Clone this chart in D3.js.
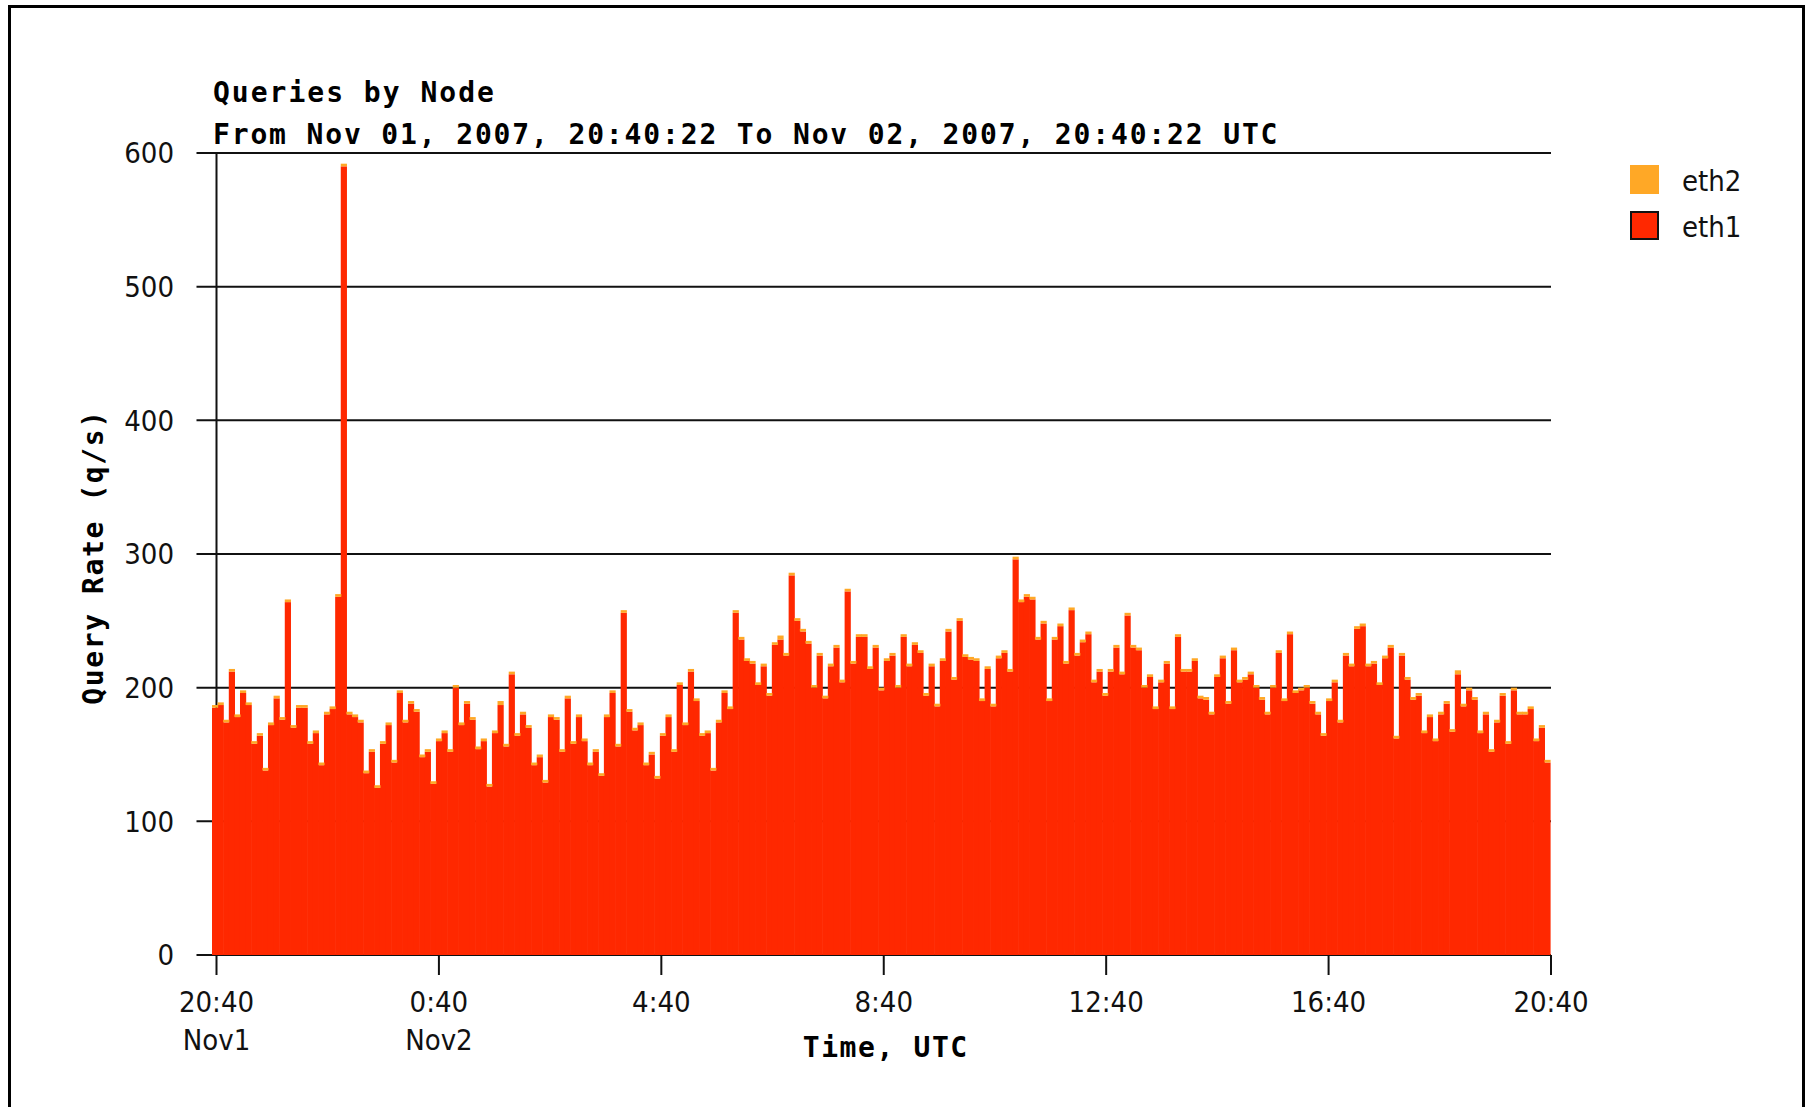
<!DOCTYPE html>
<html>
<head>
<meta charset="utf-8">
<script src="https://cdn.jsdelivr.net/npm/d3@7"></script>
<style>
    body { margin: 0; background: #fff; }
    svg { display: block; }
</style>
</head>
<body>
<svg id="chart" width="1808" height="1107"></svg>
<script>
// query rate per time bin (q/s)
const eth1 = [
    185,187,174,212,178,196,187,158,164,138,
    172,192,176,264,170,185,185,158,166,142,
    180,184,268,590,180,178,174,136,152,125,
    158,172,144,196,174,188,182,148,152,128,
    160,166,152,200,172,188,176,154,160,126,
    166,187,156,210,164,180,170,142,148,129,
    178,176,152,192,158,178,160,142,152,134,
    178,196,156,256,182,168,172,142,150,132,
    164,178,152,202,172,212,190,164,166,138,
    174,196,184,256,236,220,218,202,216,194,
    232,236,224,284,250,242,233,200,224,192,
    216,230,204,272,218,238,238,214,230,198,
    220,224,200,238,216,232,226,194,216,186,
    220,242,206,250,223,221,220,190,214,186,
    222,226,212,296,264,268,266,236,248,190,
    236,246,218,258,224,234,240,204,212,194,
    212,
    230,210,254,230,228,200,208,184,204,218,
    184,238,212,212,220,192,191,180,208,222,
    188,228,204,206,210,200,191,180,200,226,
    190,240,196,198,200,188,180,164,190,204,
    174,224,216,244,246,216,218,202,222,230,
    162,224,206,191,194,166,178,160,180,188,
    167,210,186,198,191,166,180,152,174,194,
    158,198,180,180,184,160,170,144
];

const eth2 = [
    2,2,2,2,2,2,2,2,2,2, 2,2,2,2,2,2,2,2,2,2,
    2,2,2,2,2,2,2,2,2,2, 2,2,2,2,2,2,2,2,2,2,
    2,2,2,2,2,2,2,2,2,2, 2,3,2,2,2,2,2,2,2,2,
    2,2,2,2,2,2,2,2,2,2, 2,2,2,2,2,2,2,2,2,2,
    2,2,2,2,2,2,2,2,2,2, 2,2,2,2,2,2,2,2,2,2,
    2,3,2,2,2,2,2,2,2,2, 2,2,2,2,2,2,2,2,2,2,
    2,2,2,2,2,2,2,2,2,2, 2,2,2,2,2,2,2,2,2,2,
    2,2,2,2,2,2,2,2,2,2, 2,2,2,2,2,2,2,2,2,2,
    2,
    2,2,2,2,2,2,2,2,2,2, 2,2,2,2,2,2,2,2,2,2,
    2,2,2,2,2,2,2,2,2,2, 2,2,2,2,2,2,2,2,2,2,
    2,2,2,2,2,2,2,2,2,2, 2,2,2,2,2,2,2,2,2,2,
    2,3,2,2,2,2,2,2,2,2, 2,2,2,2,2,2,2,2
];

const seriesNames = ["eth2", "eth1"];
const seriesColors = { eth2: "#ffa826", eth1: "#ff2800" };

const yTicks = [0, 100, 200, 300, 400, 500, 600];
const xTickTimes = [
    "2007-11-01T20:40:22Z", "2007-11-02T00:40:22Z", "2007-11-02T04:40:22Z",
    "2007-11-02T08:40:22Z", "2007-11-02T12:40:22Z", "2007-11-02T16:40:22Z",
    "2007-11-02T20:40:22Z"
];
const xTickLabels = ["20:40", "0:40", "4:40", "8:40", "12:40", "16:40", "20:40"];
const xTickDays = ["Nov1", "Nov2", "", "", "", "", ""];

const titleText = "Queries by Node";
const subtitleText = "From Nov 01, 2007, 20:40:22 To Nov 02, 2007, 20:40:22 UTC";

const monoFont = "'DejaVu Sans Mono', monospace";
const thinFont = "'DejaVu Sans Condensed', 'DejaVu Sans', sans-serif";

var svg = d3.select("#chart");

// outer frame
svg.append("rect")
    .attr("x", 9.5)
    .attr("y", 6.5)
    .attr("width", 1794)
    .attr("height", 1200)
    .attr("fill", "none")
    .attr("stroke", "#000")
    .attr("stroke-width", 3);

var x = d3.scaleUtc()
    .domain([new Date(xTickTimes[0]), new Date(xTickTimes[xTickTimes.length - 1])])
    .range([216.5, 1551]);

var y = d3.scaleLinear().domain([0, 600]).range([955, 153]);

// bins run a few pixels left of the first time mark, like the original
var band = d3.scaleBand()
    .domain(d3.range(eth1.length))
    .range([x.range()[0] - 4.5, x.range()[1] - 1]);

// grid lines (drawn under the bars)
svg.append("g")
    .selectAll("line")
    .data(yTicks)
    .join("line")
    .attr("x1", x.range()[0] - 20)
    .attr("x2", x.range()[1])
    .attr("y1", d => y(d))
    .attr("y2", d => y(d))
    .attr("stroke", "#111")
    .attr("stroke-width", 2);

svg.append("line")
    .attr("x1", x.range()[0])
    .attr("x2", x.range()[0])
    .attr("y1", y(600))
    .attr("y2", y(0))
    .attr("stroke", "#111")
    .attr("stroke-width", 2);

// y tick labels
svg.append("g")
    .selectAll("text")
    .data(yTicks)
    .join("text")
    .attr("x", 174)
    .attr("y", d => y(d))
    .attr("dy", "0.36em")
    .attr("text-anchor", "end")
    .attr("font-family", thinFont)
    .attr("font-size", 29)
    .attr("fill", "#111")
    .text(d => d);

// stacked bars
var rows = eth1.map((v, i) => ({ i: i, eth1: v, eth2: eth2[i] }));
var stacked = d3.stack().keys(["eth1", "eth2"])(rows);

svg.append("g")
    .selectAll("g")
    .data(stacked)
    .join("g")
    .attr("fill", d => seriesColors[d.key])
    .selectAll("rect")
    .data(d => d)
    .join("rect")
    .attr("x", d => band(d.data.i))
    .attr("width", band.bandwidth() + 0.6)
    .attr("y", d => y(d[1]))
    .attr("height", d => y(d[0]) - y(d[1]));

// x ticks and labels
var xg = svg.append("g");
xTickTimes.forEach((t, i) => {
    var px = x(new Date(t));
    xg.append("line")
        .attr("x1", px)
        .attr("x2", px)
        .attr("y1", y(0))
        .attr("y2", y(0) + 20)
        .attr("stroke", "#111")
        .attr("stroke-width", 2);
    xg.append("text")
        .attr("x", px)
        .attr("y", 1012)
        .attr("text-anchor", "middle")
        .attr("font-family", thinFont)
        .attr("font-size", 29)
        .attr("fill", "#111")
        .text(xTickLabels[i]);
    if (xTickDays[i]) {
        xg.append("text")
            .attr("x", px)
            .attr("y", 1050)
            .attr("text-anchor", "middle")
            .attr("font-family", thinFont)
            .attr("font-size", 29)
            .attr("fill", "#111")
            .text(xTickDays[i]);
    }
});

// titles
svg.append("text")
    .attr("x", 213)
    .attr("y", 102)
    .attr("font-family", monoFont)
    .attr("font-weight", "bold")
    .attr("font-size", 28)
    .attr("letter-spacing", 2.0)
    .text(titleText);

svg.append("text")
    .attr("x", 213)
    .attr("y", 144)
    .attr("font-family", monoFont)
    .attr("font-weight", "bold")
    .attr("font-size", 28)
    .attr("letter-spacing", 1.85)
    .text(subtitleText);

svg.append("text")
    .attr("x", (x.range()[0] + x.range()[1]) / 2 + 2)
    .attr("y", 1057)
    .attr("text-anchor", "middle")
    .attr("font-family", monoFont)
    .attr("font-weight", "bold")
    .attr("font-size", 28)
    .attr("letter-spacing", 1.6)
    .text("Time, UTC");

svg.append("text")
    .attr("transform", "translate(103," + ((y(0) + y(600)) / 2 + 3) + ") rotate(-90)")
    .attr("text-anchor", "middle")
    .attr("font-family", monoFont)
    .attr("font-weight", "bold")
    .attr("font-size", 28)
    .attr("letter-spacing", 1.6)
    .text("Query Rate (q/s)");

// legend
var legend = svg.append("g")
    .selectAll("g")
    .data(seriesNames)
    .join("g")
    .attr("transform", (d, i) => "translate(1630," + (165 + i * 46) + ")");

legend.append("rect")
    .attr("x", d => d === "eth1" ? 1 : 0)
    .attr("y", d => d === "eth1" ? 1 : 0)
    .attr("width", d => d === "eth1" ? 27 : 29)
    .attr("height", d => d === "eth1" ? 27 : 29)
    .attr("fill", d => seriesColors[d])
    .attr("stroke", d => d === "eth1" ? "#111" : "none")
    .attr("stroke-width", 2);

legend.append("text")
    .attr("x", 52)
    .attr("y", 26)
    .attr("font-family", thinFont)
    .attr("font-size", 29)
    .attr("fill", "#111")
    .text(d => d);
</script>
</body>
</html>
